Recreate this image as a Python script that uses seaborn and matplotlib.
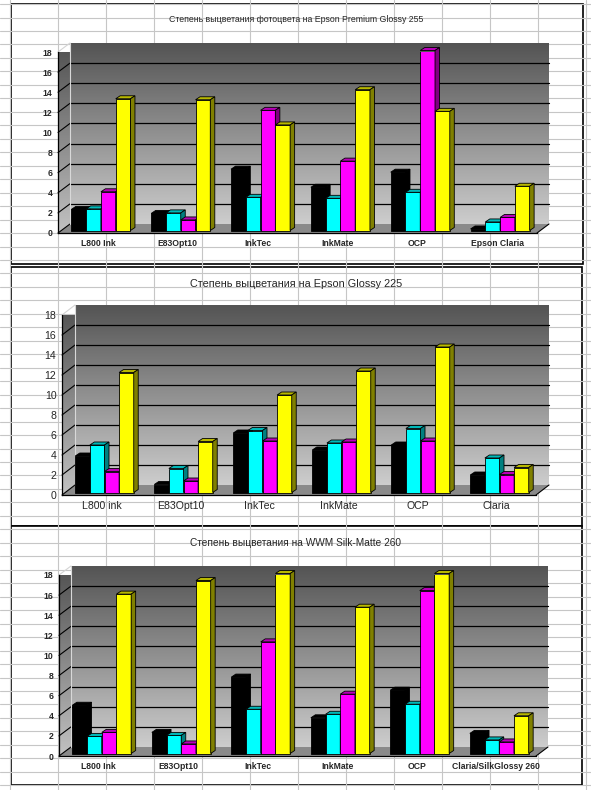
import numpy as np
import pandas as pd
import matplotlib
matplotlib.use("Agg")
import matplotlib.pyplot as plt
import seaborn as sns
from matplotlib.patches import Polygon, Rectangle
from matplotlib.colors import to_rgb, LinearSegmentedColormap

# --- values ---
inks = ["Black", "Cyan", "Magenta", "Yellow"]
ink_colors = ["#000000", "#00ffff", "#ff00ff", "#ffff00"]
y_ticks = list(range(0, 19, 2))

title_premium = "Степень выцветания фотоцвета на Epson Premium Glossy 255"
cats_premium = ["L800 Ink", "E83Opt10", "InkTec", "InkMate", "OCP", "Epson Claria"]
black_premium = [2.1, 1.7, 6.1, 4.3, 5.8, 0.15]
cyan_premium = [2.15, 1.75, 3.3, 3.2, 3.8, 0.85]
magenta_premium = [3.85, 1.05, 11.95, 6.9, 17.9, 1.3]
yellow_premium = [13.1, 13.0, 10.5, 14.0, 11.85, 4.4]

title_glossy = "Степень выцветания на Epson Glossy 225"
cats_glossy = ["L800 ink", "E83Opt10", "InkTec", "InkMate", "OCP", "Claria"]
black_glossy = [3.65, 0.8, 5.95, 4.25, 4.75, 1.75]
cyan_glossy = [4.75, 2.4, 6.2, 4.95, 6.4, 3.45]
magenta_glossy = [2.1, 1.15, 5.15, 5.05, 5.15, 1.8]
yellow_glossy = [12.0, 5.1, 9.75, 12.15, 14.55, 2.5]

title_silk = "Степень выцветания на WWM Silk-Matte 260"
cats_silk = ["L800 Ink", "E83Opt10", "InkTec", "InkMate", "OCP", "Claria/SilkGlossy 260"]
black_silk = [4.8, 2.1, 7.6, 3.55, 6.3, 2.0]
cyan_silk = [1.7, 1.8, 4.4, 3.9, 4.9, 1.35]
magenta_silk = [2.1, 0.95, 11.1, 5.9, 16.2, 1.15]
yellow_silk = [15.85, 17.2, 17.9, 14.55, 17.9, 3.75]

W, H = 591, 790

sns.set_style("white")
plt.rcParams["font.family"] = ["Liberation Sans", "DejaVu Sans"]

NARROW = ["Liberation Sans Narrow", "Liberation Sans", "DejaVu Sans"]
REGULAR = ["Liberation Sans", "DejaVu Sans"]


def shade(color, k):
    r, g, b = to_rgb(color)
    return (r * k, g * k, b * k)


def draw_panel(fig, frame, depth, title, title_pos, cats, series, style):
    """frame = (x_left, x_right, y_top, y_bottom) of the front axes in pixels."""
    x0, x1, ytop, ybot = frame
    ax = fig.add_axes([x0 / W, 1 - ybot / H, (x1 - x0) / W, (ybot - ytop) / H])
    ax.set_facecolor("none")

    ncat = len(cats)
    xmin, xmax, ymax = -0.5, ncat - 0.5, 18
    ux = (xmax - xmin) / (x1 - x0)   # data units per pixel
    uy = ymax / (ybot - ytop)
    dx, dy = depth[0] * ux, depth[1] * uy          # wall depth
    fx, fy = 3 * ux, 2.5 * uy                      # bar front plane
    bx, by = 4.5 * ux, 3 * uy                      # bar depth

    df = pd.DataFrame({
        "category": cats * len(inks),
        "ink": np.repeat(inks, ncat),
        "value": np.concatenate(series),
    })
    sns.barplot(data=df, x="category", y="value", hue="ink", order=cats,
                hue_order=inks, palette=ink_colors, saturation=1, width=0.74,
                gap=0, errorbar=None, edgecolor="black", linewidth=0.6,
                legend=False, ax=ax)

    # --- fake 3D faces on the bars, painted left to right ---
    bars = sorted(ax.patches, key=lambda p: p.get_x())
    for i, p in enumerate(bars):
        col = p.get_facecolor()
        xl = p.get_x() + fx
        xr = xl + p.get_width()
        h = p.get_height()
        p.set_x(xl)
        p.set_y(fy)
        p.set_zorder(10 + 3 * i)
        top = [(xl, fy + h), (xr, fy + h), (xr + bx, fy + h + by), (xl + bx, fy + h + by)]
        side = [(xr, fy), (xr + bx, fy + by), (xr + bx, fy + h + by), (xr, fy + h)]
        ax.add_patch(Polygon(top, closed=True, facecolor=shade(col, 0.72),
                             edgecolor="black", lw=0.6, zorder=11 + 3 * i, clip_on=False))
        ax.add_patch(Polygon(side, closed=True, facecolor=shade(col, 0.5),
                             edgecolor="black", lw=0.6, zorder=11 + 3 * i, clip_on=False))

    # --- walls and floor ---
    grad = np.linspace(0, 1, 256).reshape(-1, 1)
    back_cmap = LinearSegmentedColormap.from_list("back", ["#cdcdcd", "#545454"])
    side_cmap = LinearSegmentedColormap.from_list("side", ["#c2c2c2", "#505050"])
    ax.imshow(grad, cmap=back_cmap, origin="lower", aspect="auto",
              extent=(xmin + dx, xmax + dx, dy, ymax + dy), clip_on=False, zorder=0)
    left_img = ax.imshow(grad, cmap=side_cmap, origin="lower", aspect="auto",
                         extent=(xmin, xmin + dx, 0, ymax + dy), zorder=0)
    left_wall = Polygon([(xmin, 0), (xmin + dx, dy), (xmin + dx, ymax + dy), (xmin, ymax)],
                        closed=True, facecolor="none", edgecolor="none",
                        transform=ax.transData)
    ax.add_patch(left_wall)
    left_img.set_clip_path(left_wall)
    ax.add_patch(Polygon([(xmin, 0), (xmax, 0), (xmax + dx, dy), (xmin + dx, dy)],
                         closed=True, facecolor="#8a8a8a", edgecolor="none",
                         zorder=1, clip_on=False))
    for v in y_ticks:
        if 0 < v < ymax:
            ax.plot([xmin + dx, xmax + dx], [v + dy, v + dy], color="black",
                    lw=0.9, zorder=2, clip_on=False)
        edge = "#d4d4d4" if v == ymax else "black"
        ax.plot([xmin, xmin + dx], [v, v + dy], color=edge, lw=0.8,
                zorder=2, clip_on=False)
    ax.plot([xmin + dx, xmin + dx], [dy, ymax + dy], color="#d8d8d8", lw=0.8,
            zorder=2, clip_on=False)
    ax.plot([xmax, xmax + dx], [0, dy], color="black", lw=0.8, zorder=2, clip_on=False)

    # --- axes ---
    ax.set_xlim(xmin, xmax)
    ax.set_ylim(0, ymax)
    sns.despine(ax=ax, top=True, right=True)
    for s in ("left", "bottom"):
        ax.spines[s].set_color("black")
        ax.spines[s].set_linewidth(0.9)
    ax.set_xlabel("")
    ax.set_ylabel("")
    ax.set_yticks(y_ticks)
    ax.set_xticks(range(ncat))
    ax.set_xticks(np.arange(xmin, xmax + 0.01, 1), minor=True)
    ax.tick_params(axis="y", direction="out", length=3, width=0.8, pad=1,
                   color="black")
    ax.tick_params(axis="x", which="major", length=0, pad=style["xpad"])
    ax.tick_params(axis="x", which="minor", direction="out", length=3, width=0.8,
                   color="black")
    ax.set_yticklabels([str(v) for v in y_ticks])
    ax.set_xticklabels(cats)
    for lab in ax.get_yticklabels() + ax.get_xticklabels():
        lab.set_fontfamily(style["family"])
        lab.set_fontweight(style["weight"])
        lab.set_fontsize(style["size"])
    ax.grid(False)

    fig.text(title_pos[0] / W, 1 - title_pos[1] / H, title, ha="center",
             va="center", fontsize=style["title_size"], family=REGULAR)
    return ax


fig = plt.figure(figsize=(W / 100, H / 100), dpi=100)

# --- spreadsheet background with the three chart frames ---
bg = fig.add_axes([0, 0, 1, 1])
bg.set_xlim(0, W)
bg.set_ylim(H, 0)
bg.axis("off")
for yy in np.arange(4.05, H, 13.47):
    bg.axhline(yy, color="#c6c6c6", lw=0.8)
for xx in np.arange(10.3, W, 47.95):
    bg.axvline(xx, color="#c6c6c6", lw=0.8)
for (l, t, r, b) in [(11, 4, 583, 264), (11, 267, 582, 526), (11, 526, 582, 785)]:
    bg.add_patch(Rectangle((l, t), r - l, b - t, facecolor="white",
                           edgecolor="black", lw=1.2))

bold_style = dict(family=NARROW, weight="bold", size=6.2, xpad=4.5, title_size=6.3)
plain_style = dict(family=REGULAR, weight="normal", size=7.6, xpad=4.5, title_size=7.8)
silk_style = dict(family=NARROW, weight="bold", size=6.2, xpad=4.5, title_size=7.3)

draw_panel(fig, (58, 537, 52, 233), (12, 9), title_premium, (296, 20), cats_premium,
           [black_premium, cyan_premium, magenta_premium, yellow_premium], bold_style)
draw_panel(fig, (62, 536, 315, 495), (13, 10), title_glossy, (296, 284), cats_glossy,
           [black_glossy, cyan_glossy, magenta_glossy, yellow_glossy], plain_style)
draw_panel(fig, (59, 536, 575, 756), (12, 9), title_silk, (296, 543), cats_silk,
           [black_silk, cyan_silk, magenta_silk, yellow_silk], silk_style)

fig.savefig("out.png", dpi=100)
plt.close(fig)
